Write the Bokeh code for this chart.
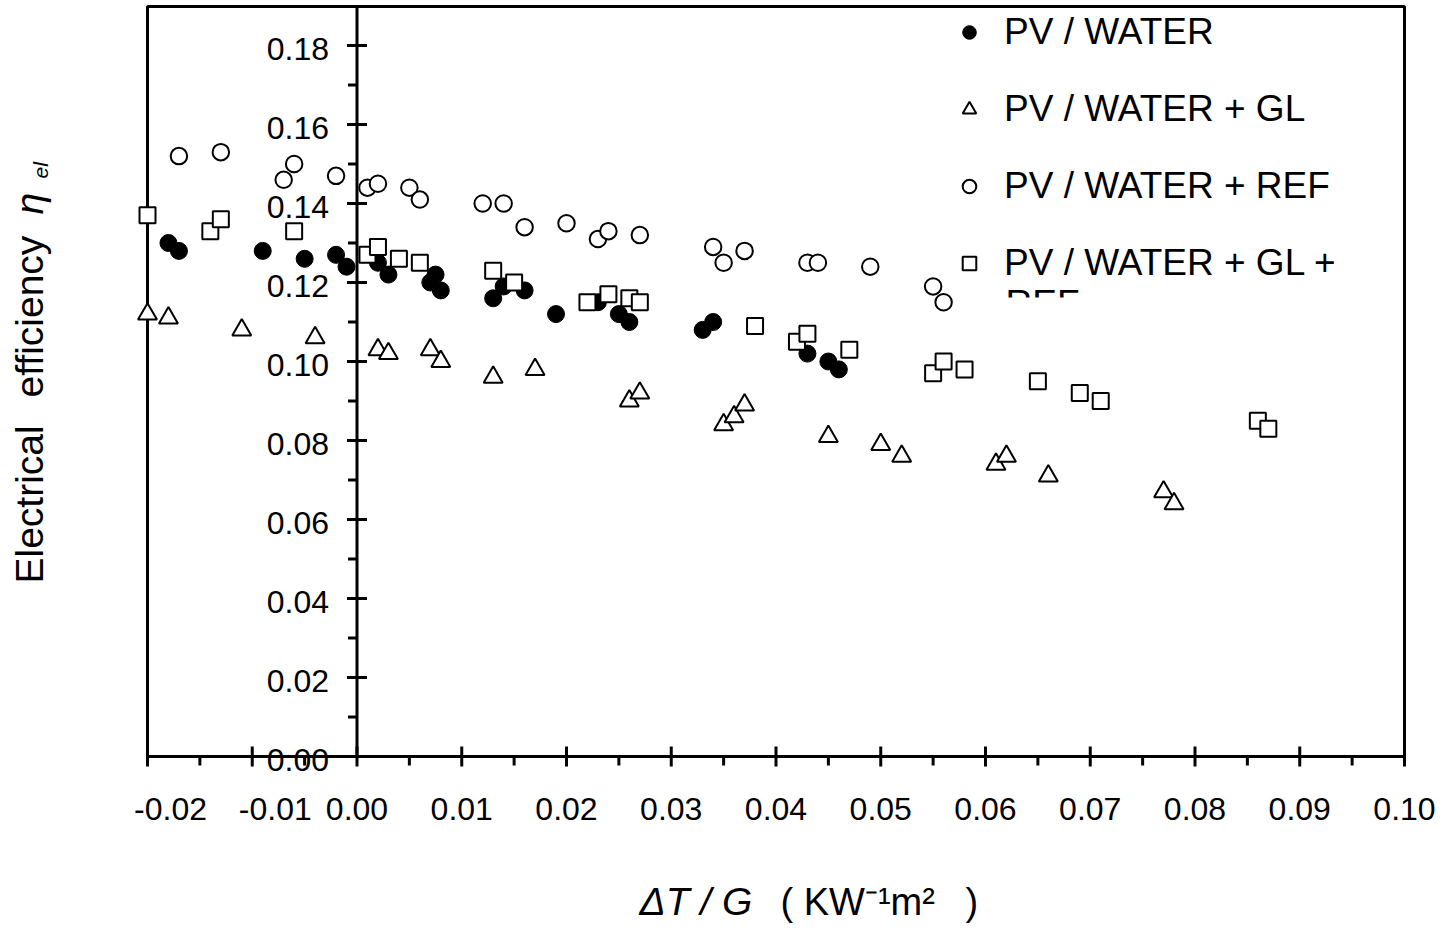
import numpy as np
from bokeh.plotting import figure
from bokeh.models import (Range1d, LabelSet, Label, Legend, LegendItem,
                          ColumnDataSource, BoxAnnotation)
from bokeh.core.properties import value
from bokeh.embed import file_html
from bokeh.resources import INLINE

FONT = "Liberation Sans"

# ---------------- data ----------------
pv_water_x = [-0.018, -0.017, -0.009, -0.005, -0.002, -0.001, 0.002, 0.003, 0.007, 0.0075, 0.008,
              0.013, 0.014, 0.016, 0.019, 0.023, 0.025, 0.026, 0.033, 0.034, 0.043, 0.045, 0.046]
pv_water_y = [0.130, 0.128, 0.128, 0.126, 0.127, 0.124, 0.125, 0.122, 0.120, 0.122, 0.118,
              0.116, 0.119, 0.118, 0.112, 0.115, 0.112, 0.110, 0.108, 0.110, 0.102, 0.100, 0.098]

gl_x = [-0.020, -0.018, -0.011, -0.004, 0.002, 0.003, 0.007, 0.008, 0.013, 0.017, 0.026, 0.027,
        0.035, 0.036, 0.037, 0.045, 0.050, 0.052, 0.061, 0.062, 0.066, 0.077, 0.078]
gl_y = [0.112, 0.111, 0.108, 0.106, 0.103, 0.102, 0.103, 0.100, 0.096, 0.098, 0.090, 0.092,
        0.084, 0.086, 0.089, 0.081, 0.079, 0.076, 0.074, 0.076, 0.071, 0.067, 0.064]

ref_x = [-0.017, -0.013, -0.007, -0.006, -0.002, 0.001, 0.002, 0.005, 0.006, 0.012, 0.014, 0.016,
         0.020, 0.023, 0.024, 0.027, 0.034, 0.035, 0.037, 0.043, 0.044, 0.049, 0.055, 0.056]
ref_y = [0.152, 0.153, 0.146, 0.150, 0.147, 0.144, 0.145, 0.144, 0.141, 0.140, 0.140, 0.134,
         0.135, 0.131, 0.133, 0.132, 0.129, 0.125, 0.128, 0.125, 0.125, 0.124, 0.119, 0.115]

glref_x = [-0.020, -0.014, -0.013, -0.006, 0.001, 0.002, 0.004, 0.006, 0.013, 0.015, 0.022, 0.024,
           0.026, 0.027, 0.038, 0.042, 0.043, 0.047, 0.055, 0.056, 0.058, 0.065, 0.069, 0.071,
           0.086, 0.087]
glref_y = [0.137, 0.133, 0.136, 0.133, 0.127, 0.129, 0.126, 0.125, 0.123, 0.120, 0.115, 0.117,
           0.116, 0.115, 0.109, 0.105, 0.107, 0.103, 0.097, 0.100, 0.098, 0.095, 0.092, 0.090,
           0.085, 0.083]

series_names = ["PV / WATER", "PV / WATER + GL", "PV / WATER + REF", "PV / WATER + GL +"]
series_name_rest = "REF"

x_ticks = [-0.02, -0.01, 0.00, 0.01, 0.02, 0.03, 0.04, 0.05, 0.06, 0.07, 0.08, 0.09, 0.10]
x_tick_labels = ["-0.02", "-0.01", "0.00", "0.01", "0.02", "0.03", "0.04", "0.05", "0.06",
                 "0.07", "0.08", "0.09", "0.10"]
y_ticks = [0.00, 0.02, 0.04, 0.06, 0.08, 0.10, 0.12, 0.14, 0.16, 0.18]
y_tick_labels = ["0.00", "0.02", "0.04", "0.06", "0.08", "0.10", "0.12", "0.14", "0.16", "0.18"]

x_title_italic = "ΔT / G"
x_title_units = "( KW⁻¹m²"
x_title_close = ")"
y_title_words = ["Electrical", "efficiency"]
y_title_symbol = "η"
y_title_sub = "el"

# ---------------- layout (pixels on the canvas) ----------------
W, H = 1441, 929
PX_X0, PX_X1 = 147, 1404        # canvas x of -0.02 and 0.10
PX_Y0, PX_Y18 = 756, 45         # canvas y of 0.00 and 0.18
X_MIN, X_MAX = x_ticks[0], x_ticks[-1]
kx = (PX_X1 - PX_X0) / (X_MAX - X_MIN)
ky = (PX_Y0 - PX_Y18) / 0.18
XL = X_MIN - PX_X0 / kx
XR = XL + W / kx
YT = PX_Y0 / ky
YB = YT - H / ky
Y_BORDER = (PX_Y0 - 6) / ky      # top edge of the plot frame


def sy(py):                       # canvas y (down) -> screen units (up)
    return H - py


def text_label(x, y, text, size, angle=0.0, italic=False, align="left"):
    return Label(x=x, y=y, x_units="screen", y_units="screen", text=text, angle=angle,
                 text_font=FONT, text_font_size=f"{size}px",
                 text_font_style="italic" if italic else "normal",
                 text_align=align, text_baseline="middle", text_color="black")


p = figure(width=W, height=H, x_range=Range1d(XL, XR), y_range=Range1d(YB, YT),
           output_backend="svg", toolbar_location=None,
           x_axis_location=None, y_axis_location=None, min_border=0)
p.grid.visible = False
p.outline_line_color = None
p.background_fill_color = "white"
p.border_fill_color = "white"

# plot frame
p.add_layout(BoxAnnotation(left=X_MIN, right=X_MAX, bottom=0, top=Y_BORDER,
                           fill_color=None, fill_alpha=0, line_color="black",
                           line_alpha=1.0, line_width=3, level="underlay"))

# x axis ticks
x_minor = [(a + b) / 2 for a, b in zip(x_ticks[:-1], x_ticks[1:])]
p.ray(x=x_ticks, y=[0] * len(x_ticks), length=10, length_units="screen", angle=-np.pi / 2,
      line_color="black", line_width=3)
p.ray(x=x_ticks, y=[0] * len(x_ticks), length=10, length_units="screen", angle=np.pi / 2,
      line_color="black", line_width=3)
p.ray(x=x_minor, y=[0] * len(x_minor), length=9, length_units="screen", angle=-np.pi / 2,
      line_color="black", line_width=3)

# y axis at x = 0
y_minor = [(a + b) / 2 for a, b in zip(y_ticks[:-1], y_ticks[1:])]
p.segment(x0=[0], y0=[0], x1=[0], y1=[Y_BORDER], line_color="black", line_width=3)
p.ray(x=[0] * len(y_ticks), y=y_ticks, length=10, length_units="screen", angle=0,
      line_color="black", line_width=3)
p.ray(x=[0] * len(y_ticks), y=y_ticks, length=10, length_units="screen", angle=np.pi,
      line_color="black", line_width=3)
p.ray(x=[0] * len(y_minor), y=y_minor, length=9, length_units="screen", angle=np.pi,
      line_color="black", line_width=3)

# ---------------- data markers ----------------
r1 = p.scatter(pv_water_x, pv_water_y, marker="circle", size=17,
               fill_color="black", line_color="black", line_width=1)
r2 = p.scatter(gl_x, gl_y, marker="triangle", size=19,
               fill_color="white", line_color="black", line_width=2)
r3 = p.scatter(ref_x, ref_y, marker="circle", size=16.5,
               fill_color="white", line_color="black", line_width=2)
r4 = p.scatter(glref_x, glref_y, marker="square", size=16,
               fill_color="white", line_color="black", line_width=2)

# ---------------- tick labels ----------------
y_src = ColumnDataSource(dict(x=[0] * len(y_ticks), y=y_ticks, t=y_tick_labels))
p.add_layout(LabelSet(x="x", y="y", text="t", source=y_src, x_offset=-28, y_offset=-3,
                      text_align="right", text_baseline="middle",
                      text_font=value(FONT), text_font_size="32px", text_color="black"))

x_off = [23 if v < 0 else 0 for v in x_ticks]
x_src = ColumnDataSource(dict(x=x_ticks, y=[0] * len(x_ticks), t=x_tick_labels, xo=x_off))
p.add_layout(LabelSet(x="x", y="y", text="t", source=x_src, x_offset="xo", y_offset=-52,
                      text_align="center", text_baseline="middle",
                      text_font=value(FONT), text_font_size="32px", text_color="black"))

# ---------------- axis titles ----------------
p.add_layout(text_label(639, sy(901), x_title_italic, 39, italic=True))
p.add_layout(text_label(780, sy(901), x_title_units, 38))
p.add_layout(text_label(965, sy(901), x_title_close, 38))

ROT = np.pi / 2
p.add_layout(text_label(29, sy(583), y_title_words[0], 39, angle=ROT))
p.add_layout(text_label(29, sy(397), y_title_words[1], 39, angle=ROT))
p.add_layout(text_label(29, sy(214), y_title_symbol, 39, angle=ROT, italic=True))
p.add_layout(text_label(40, sy(178), y_title_sub, 21, angle=ROT, italic=True))

# ---------------- legend ----------------
legend = Legend(items=[LegendItem(label=series_names[0], renderers=[r1]),
                       LegendItem(label=series_names[1], renderers=[r2]),
                       LegendItem(label=series_names[2], renderers=[r3]),
                       LegendItem(label=series_names[3], renderers=[r4])],
                location=(952, sy(284)), orientation="vertical",
                background_fill_color="white", background_fill_alpha=1.0,
                border_line_color=None,
                glyph_width=34, glyph_height=34, label_height=43, label_width=349,
                label_standoff=18, spacing=34, padding=5, margin=0,
                label_text_font=FONT, label_text_font_size="37px",
                label_text_color="black")
p.add_layout(legend)

# the clipped continuation of the last legend label
p.add_layout(text_label(1005, sy(303), series_name_rest, 37))
p.add_layout(BoxAnnotation(left=1000, right=1090, bottom=sy(335), top=sy(297),
                           left_units="screen", right_units="screen",
                           bottom_units="screen", top_units="screen",
                           fill_color="white", fill_alpha=1.0, line_color=None,
                           level="overlay"))

open("out.html", "w").write(file_html(p, INLINE))
